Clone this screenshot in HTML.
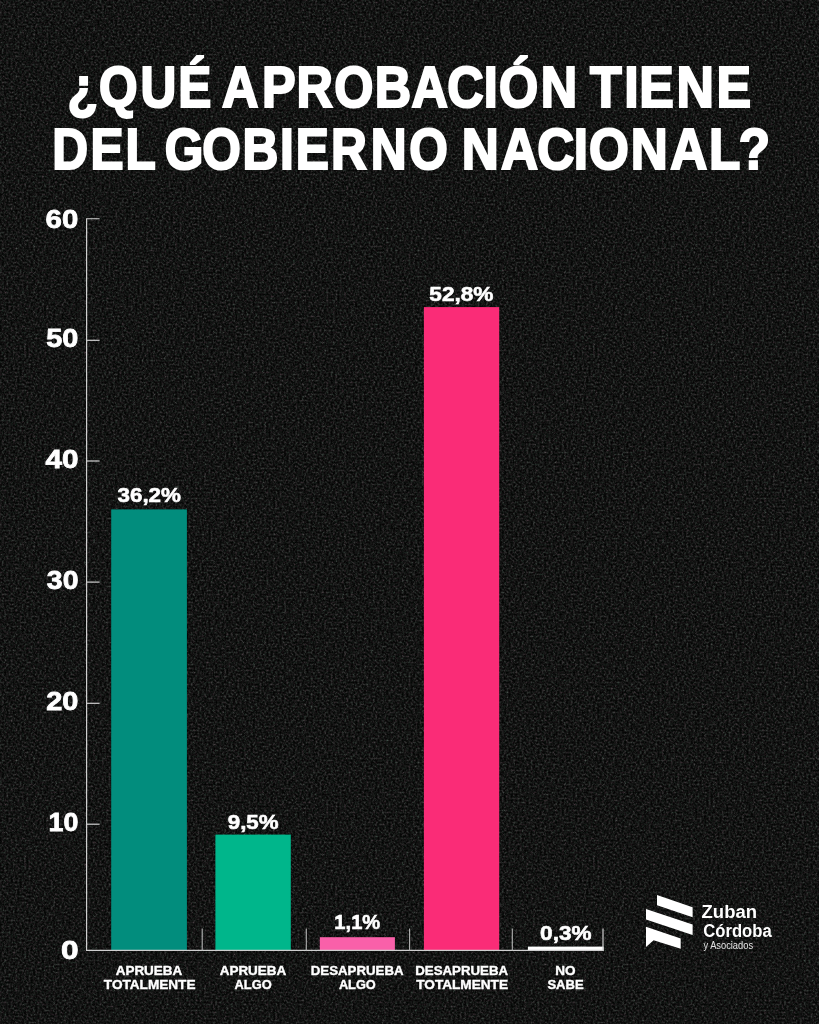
<!DOCTYPE html>
<html lang="es">
<head>
<meta charset="utf-8">
<title>¿Qué aprobación tiene del Gobierno Nacional?</title>
<style>
html,body{margin:0;padding:0;background:#161616;}
body{width:819px;height:1024px;overflow:hidden;}
svg{display:block;}
text{font-family:"Liberation Sans",sans-serif;font-weight:bold;fill:#fff;stroke:#fff;stroke-linejoin:miter;}
text.rg{font-weight:normal;stroke:none;fill:#e4e4e4;}
text.ns{stroke:none;}
</style>
</head>
<body>
<svg width="819" height="1024" viewBox="0 0 819 1024">
<defs>
<filter id="grain" x="0" y="0" width="100%" height="100%" color-interpolation-filters="sRGB">
<feTurbulence type="fractalNoise" baseFrequency="0.45 0.5" numOctaves="3" seed="3"/>
<feColorMatrix type="matrix" values="0.86 0.14 0 0 0  0.86 0 0.14 0 0  0.86 0.07 0.07 0 0  0 0 0 0 1"/>
<feComponentTransfer>
<feFuncR type="gamma" amplitude="0.41" exponent="2.4" offset="0.0"/>
<feFuncG type="gamma" amplitude="0.41" exponent="2.4" offset="0.003"/>
<feFuncB type="gamma" amplitude="0.41" exponent="2.4" offset="0.0"/>
</feComponentTransfer>
</filter>
</defs>
<rect width="819" height="1024" fill="#161616"/>
<rect width="819" height="1024" filter="url(#grain)"/>
<g id="title">
<text transform="scale(0.8594 1)" x="78.61 115.3 163.62 207.5" y="106.6" font-size="57.7" stroke-width="2.2">¿QUÉ</text>
<text transform="scale(0.8741 1)" x="254.12 299.8 339.23 382.52 428.72 470.74 511.77 553.3 570.77 618.75" y="106.6" font-size="57.7" stroke-width="2.2">APROBACIÓN</text>
<text transform="scale(0.899 1)" x="656.42 694.52 711.02 752.63 796.9" y="106.6" font-size="57.7" stroke-width="2.2">TIENE</text>
<text transform="scale(0.8589 1)" x="60.82 105.4 146.02" y="169.3" font-size="57.7" stroke-width="2.2">DEL</text>
<text transform="scale(0.8604 1)" x="191.62 234.98 281.73 325.45 343.7 384.69 430.91 475.52" y="169.3" font-size="57.7" stroke-width="2.2">GOBIERNO</text>
<text transform="scale(0.8882 1)" x="519.84 563.95 604.89 646.02 663.21 710.29 754.51 798.24 831.65" y="169.3" font-size="57.7" stroke-width="2.2">NACIONAL?</text>
</g>
<g id="bars">
<rect x="111.2" y="509.4" width="75.7" height="441.0" fill="#028d7d"/>
<rect x="215.4" y="834.6" width="75.4" height="115.8" fill="#00b68b"/>
<rect x="319.8" y="937.2" width="75.1" height="13.2" fill="#f960a9"/>
<rect x="423.9" y="307.1" width="75.3" height="643.3" fill="#fa2c77"/>
<rect x="527.9" y="946.6" width="75.7" height="4.4" fill="#fff"/>
</g>
<g id="axis" stroke="#cfcfcf" stroke-width="1.2" fill="none">
<path d="M99.6 218.75H86.6V950.4H603V928.4"/>
<path d="M86.6 340.3H99.6"/>
<path d="M86.6 461.0H99.6"/>
<path d="M86.6 582.1H99.6"/>
<path d="M86.6 703.3H99.6"/>
<path d="M86.6 824.2H99.6"/>
<path d="M202.2 928.4V950.4" stroke="#b4b4b4" stroke-width="1.1"/>
<path d="M306.3 928.4V950.4" stroke="#b4b4b4" stroke-width="1.1"/>
<path d="M409.6 928.4V950.4" stroke="#b4b4b4" stroke-width="1.1"/>
<path d="M512.3 928.4V950.4" stroke="#b4b4b4" stroke-width="1.1"/>
</g>
<g id="ylabels">
<text x="45.6" y="227.7" font-size="25.8" stroke-width="0.8" textLength="32.65" lengthAdjust="spacingAndGlyphs">60</text>
<text x="46.23" y="346.8" font-size="25.8" stroke-width="0.8" textLength="32.13" lengthAdjust="spacingAndGlyphs">50</text>
<text x="45.45" y="468.2" font-size="25.8" stroke-width="0.8" textLength="33.0" lengthAdjust="spacingAndGlyphs">40</text>
<text x="46.86" y="588.9" font-size="25.8" stroke-width="0.8" textLength="31.55" lengthAdjust="spacingAndGlyphs">30</text>
<text x="46.2" y="710.3" font-size="25.8" stroke-width="0.8" textLength="32.2" lengthAdjust="spacingAndGlyphs">20</text>
<text x="48.53" y="830.9" font-size="25.8" stroke-width="0.8" textLength="29.8" lengthAdjust="spacingAndGlyphs">10</text>
<text x="60.91" y="959.2" font-size="25.8" stroke-width="0.8" textLength="17.61" lengthAdjust="spacingAndGlyphs">0</text>
</g>
<g id="values">
<text x="117.51" y="502.3" font-size="20.8" stroke-width="0.6" textLength="63.44" lengthAdjust="spacingAndGlyphs">36,2%</text>
<text x="227.78" y="829.4" font-size="20.8" stroke-width="0.6" textLength="50.82" lengthAdjust="spacingAndGlyphs">9,5%</text>
<text x="334.36" y="928.5" font-size="20.8" stroke-width="0.6" textLength="45.91" lengthAdjust="spacingAndGlyphs">1,1%</text>
<text x="429.36" y="300.5" font-size="20.8" stroke-width="0.6" textLength="64.07" lengthAdjust="spacingAndGlyphs">52,8%</text>
<text x="540.13" y="939.5" font-size="20.8" stroke-width="0.6" textLength="51.37" lengthAdjust="spacingAndGlyphs">0,3%</text>
</g>
<g id="categories">
<text x="115.67" y="974.9" font-size="13.4" stroke-width="0.4" textLength="66.67" lengthAdjust="spacingAndGlyphs">APRUEBA</text>
<text x="103.85" y="988.7" font-size="13.4" stroke-width="0.4" textLength="91.65" lengthAdjust="spacingAndGlyphs">TOTALMENTE</text>
<text x="219.68" y="974.9" font-size="13.4" stroke-width="0.4" textLength="66.62" lengthAdjust="spacingAndGlyphs">APRUEBA</text>
<text x="234.53" y="988.7" font-size="13.4" stroke-width="0.4" textLength="37.12" lengthAdjust="spacingAndGlyphs">ALGO</text>
<text x="310.76" y="974.9" font-size="13.4" stroke-width="0.4" textLength="92.83" lengthAdjust="spacingAndGlyphs">DESAPRUEBA</text>
<text x="338.91" y="988.7" font-size="13.4" stroke-width="0.4" textLength="36.87" lengthAdjust="spacingAndGlyphs">ALGO</text>
<text x="415.28" y="974.9" font-size="13.4" stroke-width="0.4" textLength="92.82" lengthAdjust="spacingAndGlyphs">DESAPRUEBA</text>
<text x="416.25" y="988.7" font-size="13.4" stroke-width="0.4" textLength="91.75" lengthAdjust="spacingAndGlyphs">TOTALMENTE</text>
<text x="555.22" y="974.9" font-size="13.4" stroke-width="0.4" textLength="20.32" lengthAdjust="spacingAndGlyphs">NO</text>
<text x="547.4" y="988.7" font-size="13.4" stroke-width="0.4" textLength="36.19" lengthAdjust="spacingAndGlyphs">SABE</text>
</g>
<g id="logo" fill="#fff">
<path d="M657 895L692.6 907.2V917.3L657 905.2Z"/>
<path d="M646 908.9L692.6 924.6V934.9L646 919.5Z"/>
<path d="M646 926.8L680.7 938.5V948.8L653.6 940.2L646 947Z"/>
</g>
<text x="701.57" y="918.3" font-size="19.2" class="ns" textLength="55.45" lengthAdjust="spacingAndGlyphs">Zuban</text>
<text x="703.25" y="936.5" font-size="19.2" class="ns" textLength="68.42" lengthAdjust="spacingAndGlyphs">Córdoba</text>
<text x="703.41" y="948.7" font-size="10.2" class="rg" textLength="49.63" lengthAdjust="spacingAndGlyphs">y Asociados</text>
</svg>
</body>
</html>
